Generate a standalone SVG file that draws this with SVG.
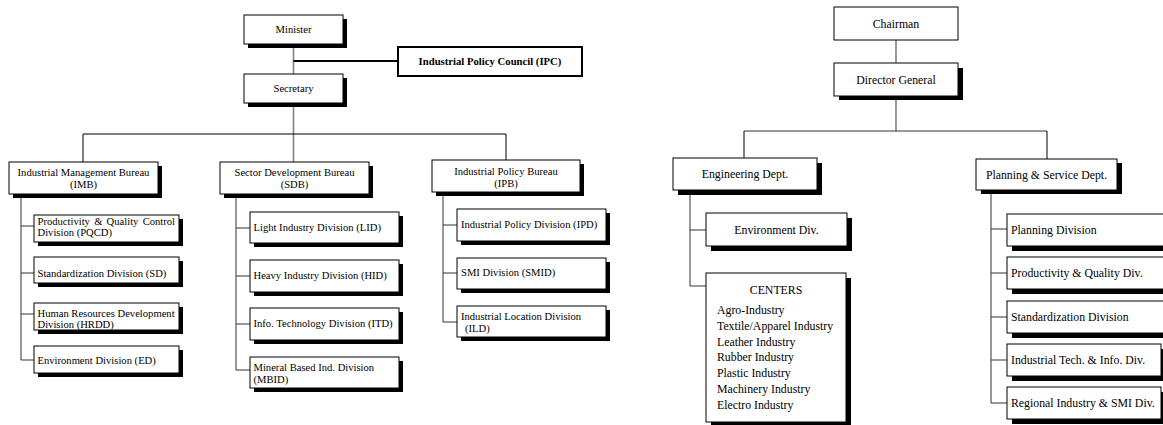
<svg xmlns="http://www.w3.org/2000/svg" width="1163" height="425" viewBox="0 0 1163 425">
  <style>
    .box { fill: #ffffff; stroke: #000000; stroke-width: 1; }
    .shadow { fill: #000000; }
    .ipc { fill: #ffffff; stroke: #000000; stroke-width: 2; }
    .trunk { stroke: #808080; stroke-width: 1.6; fill: none; }
    .line { stroke: #000000; stroke-width: 1; fill: none; }
    .branch { stroke: #333333; stroke-width: 1; fill: none; }
    .thick { stroke: #000000; stroke-width: 2; fill: none; }
    text { font-family: "Liberation Serif", "Times New Roman", serif; fill: #000000; }
    .s { font-size: 10.6px; }
    .m { font-size: 11.8px; }
    .c { text-anchor: middle; }
    .b { font-weight: bold; font-size: 10.7px; }
  </style>

  <!-- connectors -->
  <g id="connectors">
    <!-- ministry trunk -->
    <line class="trunk" x1="293.5" y1="44" x2="293.5" y2="74"/>
    <line class="thick" x1="293.5" y1="61" x2="398" y2="61"/>
    <line class="trunk" x1="293.5" y1="103" x2="293.5" y2="162"/>
    <line class="line" x1="83" y1="134" x2="506" y2="134"/>
    <line class="line" x1="83" y1="134" x2="83" y2="162"/>
    <line class="line" x1="506" y1="134" x2="506" y2="160"/>
    <!-- IMB divisions -->
    <polyline class="branch" points="21,194 21,360 34,360"/>
    <line class="branch" x1="21" y1="226" x2="34" y2="226"/>
    <line class="branch" x1="21" y1="273" x2="34" y2="273"/>
    <line class="branch" x1="21" y1="314" x2="34" y2="314"/>
    <!-- SDB divisions -->
    <polyline class="branch" points="236,194 236,370 250,370"/>
    <line class="branch" x1="236" y1="228" x2="250" y2="228"/>
    <line class="branch" x1="236" y1="276" x2="250" y2="276"/>
    <line class="branch" x1="236" y1="324" x2="250" y2="324"/>
    <!-- IPB divisions -->
    <polyline class="branch" points="443,192 443,322 457,322"/>
    <line class="branch" x1="443" y1="225" x2="457" y2="225"/>
    <line class="branch" x1="443" y1="273" x2="457" y2="273"/>

    <!-- institute trunk -->
    <line class="trunk" x1="896" y1="40" x2="896" y2="63"/>
    <line class="trunk" x1="896" y1="96" x2="896" y2="131"/>
    <line class="branch" x1="744" y1="131" x2="1047" y2="131"/>
    <line class="line" x1="744" y1="131" x2="744" y2="158"/>
    <line class="line" x1="1047" y1="131" x2="1047" y2="159"/>
    <!-- Engineering branches -->
    <polyline class="branch" points="690,190 690,286 706,286"/>
    <line class="branch" x1="690" y1="230" x2="706" y2="230"/>
    <!-- Planning & Service branches -->
    <polyline class="branch" points="991,190 991,403 1007,403"/>
    <line class="branch" x1="991" y1="229" x2="1007" y2="229"/>
    <line class="branch" x1="991" y1="273" x2="1007" y2="273"/>
    <line class="branch" x1="991" y1="317" x2="1007" y2="317"/>
    <line class="branch" x1="991" y1="360" x2="1007" y2="360"/>
  </g>

  <!-- ministry nodes -->
  <g id="minister">
    <rect class="shadow" x="248" y="19" width="99" height="29"/>
    <rect class="box" x="244" y="15" width="99" height="29"/>
    <text class="s c" x="293.5" y="32.5">Minister</text>
  </g>
  <g id="ipc">
    <rect class="ipc" x="398" y="47" width="184" height="29"/>
    <text class="b c" x="490" y="65">Industrial Policy Council (IPC)</text>
  </g>
  <g id="secretary">
    <rect class="shadow" x="248" y="78" width="99" height="29"/>
    <rect class="box" x="244" y="74" width="99" height="29"/>
    <text class="s c" x="293.5" y="92">Secretary</text>
  </g>

  <g id="imb">
    <rect class="shadow" x="13" y="166" width="149" height="32"/>
    <rect class="box" x="9" y="162" width="149" height="32"/>
    <text class="s c" x="83.5" y="176">Industrial Management Bureau</text>
    <text class="s c" x="83.5" y="188">(IMB)</text>
  </g>
  <g id="pqcd">
    <rect class="shadow" x="38" y="219" width="145" height="27"/>
    <rect class="box" x="34" y="215" width="145" height="27"/>
    <text class="s" x="37.5" y="224.5" word-spacing="1.6">Productivity &amp; Quality Control</text>
    <text class="s" x="37.5" y="235.5">Division (PQCD)</text>
  </g>
  <g id="sd">
    <rect class="shadow" x="38" y="261" width="145" height="26"/>
    <rect class="box" x="34" y="257" width="145" height="26"/>
    <text class="s" x="37.5" y="276.5">Standardization Division (SD)</text>
  </g>
  <g id="hrdd">
    <rect class="shadow" x="38" y="307" width="145" height="27"/>
    <rect class="box" x="34" y="303" width="145" height="27"/>
    <text class="s" x="37.5" y="316.5">Human Resources Development</text>
    <text class="s" x="37.5" y="327.5">Division (HRDD)</text>
  </g>
  <g id="ed">
    <rect class="shadow" x="38" y="350" width="145" height="27"/>
    <rect class="box" x="34" y="346" width="145" height="27"/>
    <text class="s" x="37.5" y="364">Environment Division (ED)</text>
  </g>

  <g id="sdb">
    <rect class="shadow" x="224" y="166" width="149" height="32"/>
    <rect class="box" x="220" y="162" width="149" height="32"/>
    <text class="s c" x="294.5" y="176">Sector Development Bureau</text>
    <text class="s c" x="294.5" y="188">(SDB)</text>
  </g>
  <g id="lid">
    <rect class="shadow" x="254" y="216" width="149" height="31"/>
    <rect class="box" x="250" y="212" width="149" height="31"/>
    <text class="s" x="253.5" y="230.5">Light Industry Division (LID)</text>
  </g>
  <g id="hid">
    <rect class="shadow" x="254" y="264" width="149" height="32"/>
    <rect class="box" x="250" y="260" width="149" height="32"/>
    <text class="s" x="253.5" y="278.5">Heavy Industry Division (HID)</text>
  </g>
  <g id="itd">
    <rect class="shadow" x="254" y="312" width="149" height="32"/>
    <rect class="box" x="250" y="308" width="149" height="32"/>
    <text class="s" x="253.5" y="327">Info. Technology Division (ITD)</text>
  </g>
  <g id="mbid">
    <rect class="shadow" x="254" y="361" width="149" height="31"/>
    <rect class="box" x="250" y="357" width="149" height="31"/>
    <text class="s" x="253.5" y="370.5">Mineral Based Ind. Division</text>
    <text class="s" x="253.5" y="382.5">(MBID)</text>
  </g>

  <g id="ipb">
    <rect class="shadow" x="436" y="164" width="148" height="32"/>
    <rect class="box" x="432" y="160" width="148" height="32"/>
    <text class="s c" x="506" y="174.5">Industrial Policy Bureau</text>
    <text class="s c" x="506" y="186.5">(IPB)</text>
  </g>
  <g id="ipd">
    <rect class="shadow" x="461" y="213" width="149" height="32"/>
    <rect class="box" x="457" y="209" width="149" height="32"/>
    <text class="s" x="461" y="228">Industrial Policy Division (IPD)</text>
  </g>
  <g id="smid">
    <rect class="shadow" x="461" y="262" width="149" height="31"/>
    <rect class="box" x="457" y="258" width="149" height="31"/>
    <text class="s" x="461" y="275.5">SMI Division (SMID)</text>
  </g>
  <g id="ild">
    <rect class="shadow" x="461" y="310" width="149" height="31"/>
    <rect class="box" x="457" y="306" width="149" height="31"/>
    <text class="s" x="461" y="319.5">Industrial Location Division</text>
    <text class="s" x="465" y="331.5">(ILD)</text>
  </g>

  <!-- institute nodes -->
  <g id="chairman">
    <rect class="box" x="834" y="7" width="124" height="33"/>
    <text class="m c" x="896" y="27.5">Chairman</text>
  </g>
  <g id="director-general">
    <rect class="shadow" x="839" y="68" width="124" height="32"/>
    <rect class="box" x="834" y="63" width="124" height="33"/>
    <text class="m c" x="896" y="83.5">Director General</text>
  </g>
  <g id="engineering">
    <rect class="shadow" x="678" y="163" width="144" height="32"/>
    <rect class="box" x="673" y="158" width="144" height="32"/>
    <text class="m c" x="745" y="178">Engineering Dept.</text>
  </g>
  <g id="environment-div">
    <rect class="shadow" x="711" y="218" width="141" height="33"/>
    <rect class="box" x="706" y="213" width="141" height="33"/>
    <text class="m c" x="776.5" y="234">Environment Div.</text>
  </g>
  <g id="centers">
    <rect class="shadow" x="711" y="278" width="140" height="149"/>
    <rect class="box" x="706" y="273" width="140" height="149"/>
    <text class="m c" x="776" y="294">CENTERS</text>
    <text class="m" x="717" y="314">Agro-Industry</text>
    <text class="m" x="717" y="330">Textile/Apparel Industry</text>
    <text class="m" x="717" y="345.5">Leather Industry</text>
    <text class="m" x="717" y="361">Rubber Industry</text>
    <text class="m" x="717" y="377">Plastic Industry</text>
    <text class="m" x="717" y="393">Machinery Industry</text>
    <text class="m" x="717" y="409">Electro Industry</text>
  </g>

  <g id="planning-service">
    <rect class="shadow" x="981" y="163" width="141" height="31"/>
    <rect class="box" x="976" y="159" width="141" height="31"/>
    <text class="m c" x="1046.5" y="178.5">Planning &amp; Service Dept.</text>
  </g>
  <g id="planning-division">
    <rect class="shadow" x="1012" y="219" width="160" height="32"/>
    <rect class="box" x="1007" y="214" width="160" height="32"/>
    <text class="m" x="1011" y="233.5">Planning Division</text>
  </g>
  <g id="productivity-quality">
    <rect class="shadow" x="1012" y="262" width="160" height="32"/>
    <rect class="box" x="1007" y="257" width="160" height="32"/>
    <text class="m" x="1011" y="277">Productivity &amp; Quality Div.</text>
  </g>
  <g id="standardization">
    <rect class="shadow" x="1012" y="306" width="160" height="32"/>
    <rect class="box" x="1007" y="301" width="160" height="32"/>
    <text class="m" x="1011" y="321">Standardization Division</text>
  </g>
  <g id="industrial-tech">
    <rect class="shadow" x="1012" y="349" width="160" height="32"/>
    <rect class="box" x="1007" y="344" width="154" height="32"/>
    <text class="m" x="1011" y="364">Industrial Tech. &amp; Info. Div.</text>
  </g>
  <g id="regional-industry">
    <rect class="shadow" x="1012" y="392" width="160" height="32"/>
    <rect class="box" x="1007" y="387" width="154" height="32"/>
    <text class="m" x="1011" y="407">Regional Industry &amp; SMI Div.</text>
  </g>
</svg>
